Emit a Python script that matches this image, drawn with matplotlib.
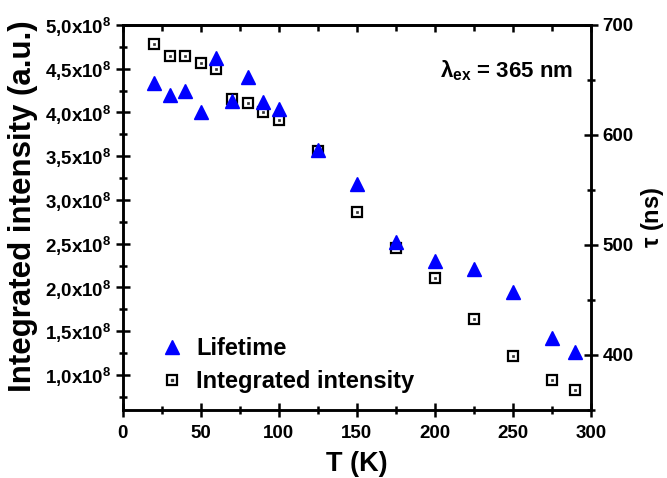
import matplotlib
matplotlib.use("Agg")
import matplotlib.pyplot as plt
from matplotlib.ticker import MultipleLocator, FuncFormatter
from matplotlib.lines import Line2D

plt.rcParams['font.family'] = ['Liberation Sans', 'DejaVu Sans']
plt.rcParams['font.weight'] = 'bold'
plt.rcParams['mathtext.fontset'] = 'custom'
plt.rcParams['mathtext.rm'] = 'Liberation Sans:bold'
plt.rcParams['mathtext.bf'] = 'Liberation Sans:bold'
plt.rcParams['mathtext.it'] = 'Liberation Sans:bold'

# Data
T = [20, 30, 40, 50, 60, 70, 80, 90, 100, 125, 150, 175, 200, 225, 250, 275, 290]
lifetime_ns = [647, 636, 640, 621, 670, 631, 653, 630, 624, 586, 555, 503, 485, 478, 457, 415, 403]
intensity = [4.78e8, 4.64e8, 4.65e8, 4.57e8, 4.50e8, 4.15e8, 4.11e8, 4.01e8, 3.91e8,
             3.56e8, 2.86e8, 2.45e8, 2.11e8, 1.64e8, 1.22e8, 0.94e8, 0.83e8]

fig = plt.figure(figsize=(6.67, 4.78), dpi=100)
ax = fig.add_axes([0.184, 0.1423, 0.7016, 0.8054])
ax2 = ax.twinx()

# intensity squares (left axis)
ax.plot(T, intensity, linestyle='none', marker='s', ms=7.5, mfc='white', mec='black', mew=1.6, zorder=3)
ax.plot(T, intensity, linestyle='none', marker='s', ms=1.8, mfc='#333333', mec='#333333', mew=0.5, zorder=4)
# lifetime triangles (right axis)
ax2.plot(T, lifetime_ns, linestyle='none', marker='^', ms=10, color='#0000ff', mec='#0000ff', zorder=5)

ax.set_xlim(0, 300)
ax.set_ylim(0.6e8, 5.0e8)
ax2.set_ylim(350, 700)

ax.xaxis.set_major_locator(MultipleLocator(50))
ax.xaxis.set_minor_locator(MultipleLocator(25))
ax.yaxis.set_major_locator(MultipleLocator(0.5e8))
ax.yaxis.set_minor_locator(MultipleLocator(0.25e8))
ax2.yaxis.set_major_locator(MultipleLocator(100))
ax2.yaxis.set_minor_locator(MultipleLocator(50))

def fmt(v, pos):
    m = v / 1e8
    s = ('%.1f' % m).replace('.', '{,}')
    return r'$\mathbf{%sx10^{8}}$' % s

ax.yaxis.set_major_formatter(FuncFormatter(fmt))

for a in (ax, ax2):
    for sp in a.spines.values():
        sp.set_linewidth(1.8)

ax.tick_params(axis='both', which='major', direction='inout', length=10, width=1.8, labelsize=13.5)
ax.tick_params(axis='both', which='minor', direction='inout', length=6, width=1.8)
ax.tick_params(axis='x', which='major', pad=6)
ax2.tick_params(axis='y', which='major', direction='inout', length=10, width=1.8, labelsize=13.5)
ax2.tick_params(axis='y', which='minor', direction='inout', length=6, width=1.8)

top = ax.secondary_xaxis('top')
top.xaxis.set_major_locator(MultipleLocator(50))
top.xaxis.set_minor_locator(MultipleLocator(25))
top.tick_params(which='major', direction='in', length=5, width=1.8, labeltop=False)
top.tick_params(which='minor', direction='in', length=4, width=1.8)
top.spines['top'].set_linewidth(1.8)

ax.set_xlabel('T (K)', fontsize=19.5, fontweight='bold', labelpad=6.5)
ax.set_ylabel('Integrated intensity (a.u.)', fontsize=22.5, fontweight='bold')
ax.yaxis.set_label_coords(-0.181, 0.53)
ax2.set_ylabel(r'$\mathbf{\tau}$ (ns)', fontsize=17, fontweight='bold', rotation=90, labelpad=4)

ax.text(0.962, 0.88, r'$\mathbf{\lambda_{ex}}$ = 365 nm', transform=ax.transAxes, ha='right', va='center',
        fontsize=16, fontweight='bold')

handles = [Line2D([], [], linestyle='none', marker='^', ms=10, color='#0000ff'),
           (Line2D([], [], linestyle='none', marker='s', ms=7.5, mfc='white', mec='black', mew=1.6),
            Line2D([], [], linestyle='none', marker='s', ms=1.8, mfc='#333333', mec='#333333'))]
ax2.legend(handles, ['Lifetime', 'Integrated intensity'], loc='lower left', bbox_to_anchor=(0.034, -0.012),
           frameon=False, prop={'size': 17, 'weight': 'bold'}, handlelength=1.0, handletextpad=0.55,
           labelspacing=0.42)

fig.savefig('out.png', dpi=100)
